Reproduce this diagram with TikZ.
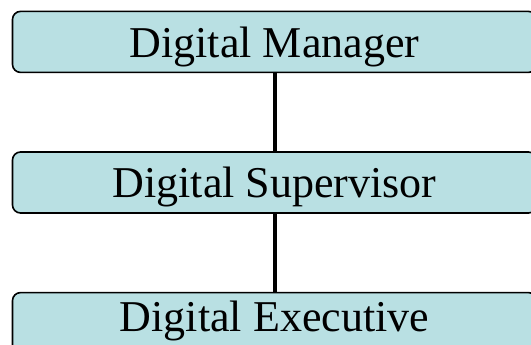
\documentclass[tikz,border=0pt]{standalone}
\usepackage{fontspec}
\setmainfont{Liberation Serif}
\usepackage{xcolor}
\usepackage{tikz}
\usetikzlibrary{positioning}
\definecolor{rolefill}{RGB}{185,224,227}
\tikzstyle{role}=[rectangle, draw, fill=rolefill, rounded corners=8pt, line width=1.6pt, minimum width=524pt, minimum height=61pt, inner sep=0pt, text height=36pt, text depth=5.2pt]
\tikzstyle{link}=[line width=4pt]

\begin{document}
\begin{tikzpicture}

\tikzset{every node/.style={font=\fontsize{44pt}{48pt}\selectfont}}

\useasboundingbox (0,0) rectangle (531pt,-345pt);
\clip (0,0) rectangle (531pt,-345pt);

% Roles, top to bottom
\node[role] (mgr) at (274.5pt,-41.9pt) {Digital Manager};
\node[role, below=78pt of mgr] (sup) {Digital Supervisor};
\node[role, below=78pt of sup, text height=30pt, text depth=12.8pt] (exe) {Digital Executive};

\draw[link] (mgr) -- (sup); % manager -> supervisor
\draw[link] (sup) -- (exe); % supervisor -> executive

\end{tikzpicture}
\end{document}
